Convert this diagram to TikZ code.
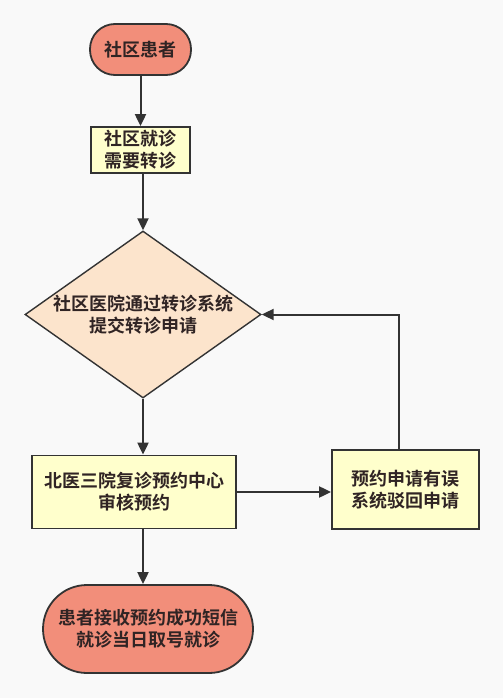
\documentclass[tikz,border=0pt]{standalone}
\usepackage{fontspec}
\newfontfamily\cjk{Noto Sans CJK SC}[BoldFont=Noto Sans CJK SC Bold]
\usepackage{xcolor}
\usetikzlibrary{positioning,arrows.meta,shapes.geometric}
\definecolor{salmon}{RGB}{242,142,122}
\definecolor{paleyellow}{RGB}{255,255,204}
\definecolor{peach}{RGB}{252,228,204}
\definecolor{inkdark}{RGB}{51,51,51}
\definecolor{textdark}{RGB}{48,36,36}
\definecolor{bggrey}{RGB}{249,249,249}
\tikzset{
  every node/.style={font=\cjk\bfseries\fontsize{18pt}{22pt}\selectfont, text=textdark, align=center},
  terminal/.style={draw=inkdark, line width=1.8pt, fill=salmon},
  procbox/.style={draw=inkdark, line width=1.8pt, fill=paleyellow, inner sep=0pt},
  decision/.style={diamond, draw=inkdark, line width=1.4pt, fill=peach, inner sep=0pt, aspect=1.41},
  flow/.style={draw=inkdark, line width=2pt, -{Triangle[length=12pt,width=11pt]}}
}
\begin{document}
\begin{tikzpicture}[x=1pt, y=-1pt]
  % Background and page size
  \fill[bggrey] (0,0) rectangle (503,698);
  \useasboundingbox (0,0) rectangle (503,698);

  % Main column
  \node[terminal, rounded corners=25pt, minimum width=101pt, minimum height=51pt] (patient) at (140.5, 49.5) {社区患者};
  \node[procbox, minimum width=99pt, minimum height=46pt] (screen) at (140.5, 150) {社区就诊\\需要转诊};
  \node[decision, minimum width=236pt, minimum height=167pt] (submit) at (143, 314.5) {社区医院通过转诊系统\\提交转诊申请};
  \node[procbox, minimum width=204pt, minimum height=73pt] (review) at (134, 492) {北医三院复诊预约中心\\审核预约};
  \node[terminal, rounded corners=44pt, minimum width=210pt, minimum height=88pt] (notice) at (148, 629) {患者接收预约成功短信\\就诊当日取号就诊};

  % Rejection branch
  \node[procbox, minimum width=147pt, minimum height=79pt] (reject) at (405.5, 489.5) {预约申请有误\\系统驳回申请};

  % Connectors
  \draw[flow] (patient.south) -- (screen.north);
  \draw[flow] (screen.south -| submit.north) -- (submit.north);
  \draw[flow] (submit.south) -- (review.north -| submit.south);
  \draw[flow] (review.south -| submit.south) -- (notice.north -| submit.south);
  \draw[flow] (review.east) -- (reject.west |- review.east);
  \draw[flow] ([xshift=-7pt]reject.north) |- (submit.east);
\end{tikzpicture}
\end{document}
